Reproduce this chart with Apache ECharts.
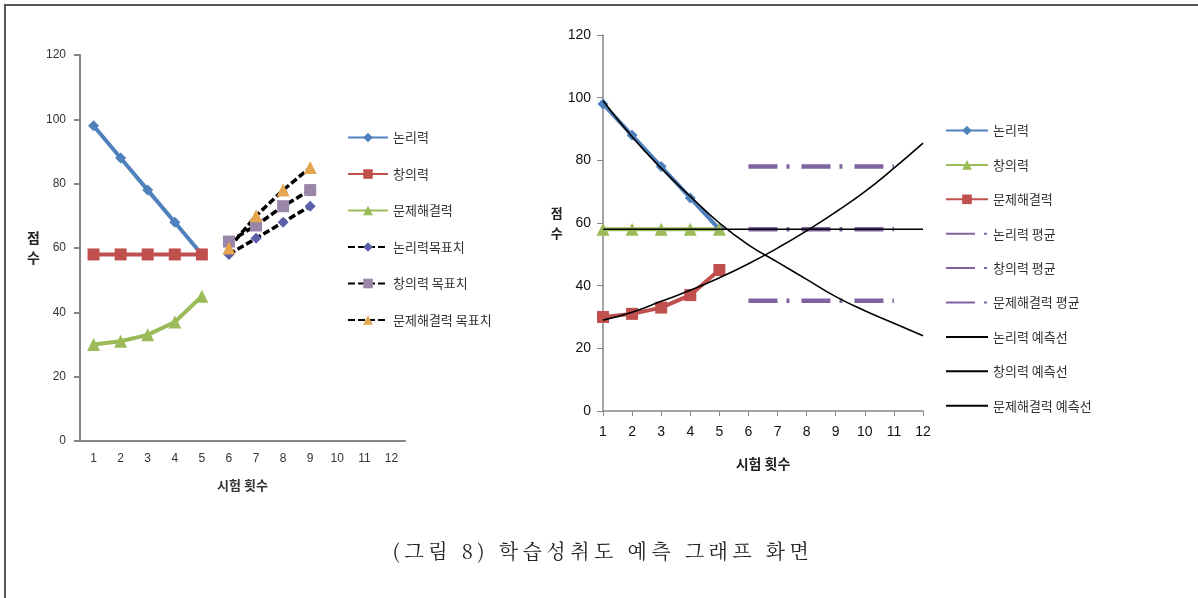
<!DOCTYPE html>
<html>
<head>
<meta charset="utf-8">
<script src="https://cdn.jsdelivr.net/npm/echarts@6/dist/echarts.min.js"></script>
<style>
  html, body { margin: 0; padding: 0; background: #fff; }
  #main { width: 1198px; height: 598px; }
  #caption {
    position: absolute; left: 0; top: 536px; width: 1206px;
    text-align: center; font-size: 20px; letter-spacing: 4.5px; color: #222;
    font-family: "Noto Serif CJK KR", "Noto Sans CJK KR", serif;
  }
</style>
</head>
<body>
<div id="main"></div>
<div id="caption">(그림 8) 학습성취도 예측 그래프 화면</div>
<script>
// 시험 회차
var rounds = ['1', '2', '3', '4', '5', '6', '7', '8', '9', '10', '11', '12'];

// 왼쪽 그래프 - 실제 점수 + 목표치
var leftLogic = [98, 88, 78, 68, 58, null, null, null, null, null, null, null];
var leftCreative = [58, 58, 58, 58, 58, null, null, null, null, null, null, null];
var leftProblem = [30, 31, 33, 37, 45, null, null, null, null, null, null, null];
var goalLogic = [null, null, null, null, null, 58, 63, 68, 73, null, null, null];
var goalCreative = [null, null, null, null, null, 62, 67, 73, 78, null, null, null];
var goalProblem = [null, null, null, null, null, 60, 70, 78, 85, null, null, null];

// 오른쪽 그래프 - 점수, 평균, 예측선
var rightLogic = [98, 88, 78, 68, 58, null, null, null, null, null, null, null];
var rightCreative = [58, 58, 58, 58, 58, null, null, null, null, null, null, null];
var rightProblem = [30, 31, 33, 37, 45, null, null, null, null, null, null, null];
var avgLogic = [null, null, null, null, null, 78, 78, 78, 78, 78, 78, null];
var avgCreative = [null, null, null, null, null, 58, 58, 58, 58, 58, 58, null];
var avgProblem = [null, null, null, null, null, 35.2, 35.2, 35.2, 35.2, 35.2, 35.2, null];
var predLogic = [99, 87.5, 77.5, 68.5, 60, 53, 47.5, 42, 36.5, 32, 28, 24];
var predCreative = [58, 58, 58, 58, 58, 58, 58, 58, 58, 58, 58, 58];
var predProblem = [29, 31.5, 35, 38.5, 42.5, 47, 52, 57.5, 63.5, 70, 77.5, 85.5];

var yTicks = { min: 0, max: 120, interval: 20 };

var blue = '#4F81BD', red = '#C0504D', green = '#9BBB59', purple = '#7F63A1';
var axisGray = '#868686';
var krFont = '"Noto Sans CJK KR", sans-serif';

var myChart = echarts.init(document.getElementById('main'));

function lineSeries(name, data, xi, color, symbol, size, extra) {
    var s = {
        name: name,
        type: 'line',
        xAxisIndex: xi,
        yAxisIndex: xi,
        data: data,
        symbol: symbol,
        symbolSize: size,
        itemStyle: { color: color },
        lineStyle: { color: color, width: 4 },
        emphasis: { disabled: true },
        animation: false
    };
    for (var k in extra) s[k] = extra[k];
    return s;
}

function goalSeries(name, data, markColor, symbol, size) {
    return lineSeries(name, data, 0, markColor, symbol, size, {
        lineStyle: { color: '#000', width: 3.5, type: [7, 3] },
        z: 3
    });
}

function avgSeries(name, data) {
    return lineSeries(name, data, 1, purple, 'none', 0, {
        lineStyle: { color: purple, width: 4.5, type: [29, 9, 3, 12] }
    });
}

function predSeries(name, data) {
    return lineSeries(name, data, 1, '#000', 'none', 0, {
        smooth: true,
        lineStyle: { color: '#000', width: 1.6 },
        z: 5
    });
}

// 마커 없는 범례 항목 (선만 표시)
function lineOnly(name) {
    return { name: name, itemStyle: { opacity: 0, color: 'rgba(0,0,0,0)', borderWidth: 0 } };
}

myChart.setOption({
    backgroundColor: '#fff',
    animation: false,
    graphic: [
        { // 바깥 테두리
            type: 'rect',
            shape: { x: 5, y: 5, width: 1300, height: 700 },
            style: { fill: 'none', stroke: '#555', lineWidth: 2 },
            silent: true
        }
    ],
    legend: [
        {
            orient: 'vertical',
            left: 342,
            top: 126,
            itemWidth: 40,
            itemHeight: 12,
            itemGap: 23.5,
            textStyle: { fontFamily: krFont, fontSize: 13, color: '#333' },
            data: ['논리력', '창의력', '문제해결력', '논리력목표치', '창의력 목표치', '문제해결력 목표치']
        },
        {
            orient: 'vertical',
            left: 940,
            top: 119,
            itemWidth: 42,
            itemHeight: 12,
            itemGap: 21.4,
            textStyle: { fontFamily: krFont, fontSize: 13, color: '#333' },
            data: ['논리력 ', '창의력 ', '문제해결력 ',
                lineOnly('논리력 평균'), lineOnly('창의력 평균'), lineOnly('문제해결력 평균'),
                lineOnly('논리력 예측선'), lineOnly('창의력 예측선'), lineOnly('문제해결력 예측선')]
        }
    ],
    grid: [
        { left: 80, right: 793, top: 55, bottom: 157 },
        { left: 603, right: 275, top: 35, bottom: 187 }
    ],
    xAxis: [
        {
            gridIndex: 0,
            type: 'category',
            data: rounds,
            boundaryGap: true,
            name: '시험 횟수',
            nameLocation: 'middle',
            nameGap: 38,
            nameTextStyle: { fontFamily: krFont, fontSize: 13, fontWeight: 'bold', color: '#333' },
            axisLine: { lineStyle: { color: axisGray, width: 2 } },
            axisTick: { length: 6, lineStyle: { color: axisGray, width: 2 } },
            axisLabel: { fontSize: 12, color: '#333', margin: 12, fontFamily: 'Liberation Sans' },
            splitLine: { show: false }
        },
        {
            gridIndex: 1,
            type: 'category',
            data: rounds,
            boundaryGap: false,
            name: '시험 횟수',
            nameLocation: 'middle',
            nameGap: 46,
            nameTextStyle: { fontFamily: krFont, fontSize: 14, fontWeight: 'bold', color: '#222' },
            axisLine: { lineStyle: { color: axisGray, width: 1.5 } },
            axisTick: { length: 5, lineStyle: { color: axisGray } },
            axisLabel: { fontSize: 14, color: '#111', margin: 14, fontFamily: 'Liberation Sans' },
            splitLine: { show: false }
        }
    ],
    yAxis: [
        {
            gridIndex: 0,
            type: 'value',
            min: yTicks.min, max: yTicks.max, interval: yTicks.interval,
            name: '점\n수',
            nameLocation: 'middle',
            nameRotate: 0,
            nameGap: 40,
            nameTextStyle: { fontFamily: krFont, fontSize: 14, fontWeight: 'bold', color: '#222', lineHeight: 20 },
            axisLine: { show: true, lineStyle: { color: axisGray, width: 2 } },
            axisTick: { show: true, length: 6, lineStyle: { color: axisGray, width: 2 } },
            axisLabel: { fontSize: 12, color: '#333', margin: 14, fontFamily: 'Liberation Sans' },
            splitLine: { show: false }
        },
        {
            gridIndex: 1,
            type: 'value',
            min: yTicks.min, max: yTicks.max, interval: yTicks.interval,
            name: '점\n수',
            nameLocation: 'middle',
            nameRotate: 0,
            nameGap: 40,
            nameTextStyle: { fontFamily: krFont, fontSize: 13, fontWeight: 'bold', color: '#222', lineHeight: 20 },
            axisLine: { show: true, lineStyle: { color: axisGray, width: 1.5 } },
            axisTick: { show: true, length: 6, lineStyle: { color: axisGray } },
            axisLabel: { fontSize: 14, color: '#111', margin: 12, fontFamily: 'Liberation Sans' },
            splitLine: { show: false }
        }
    ],
    series: [
        lineSeries('논리력', leftLogic, 0, blue, 'diamond', 11, {}),
        lineSeries('창의력', leftCreative, 0, red, 'rect', 12, {}),
        lineSeries('문제해결력', leftProblem, 0, green, 'triangle', 13, {}),
        goalSeries('논리력목표치', goalLogic, '#5A5FA8', 'diamond', 11),
        goalSeries('창의력 목표치', goalCreative, '#9A86A8', 'rect', 12),
        goalSeries('문제해결력 목표치', goalProblem, '#E3A64F', 'triangle', 13),

        lineSeries('논리력 ', rightLogic, 1, blue, 'diamond', 11, {}),
        lineSeries('창의력 ', rightCreative, 1, green, 'triangle', 13, {}),
        lineSeries('문제해결력 ', rightProblem, 1, red, 'rect', 12, {}),
        avgSeries('논리력 평균', avgLogic),
        avgSeries('창의력 평균', avgCreative),
        avgSeries('문제해결력 평균', avgProblem),
        predSeries('논리력 예측선', predLogic),
        predSeries('창의력 예측선', predCreative),
        predSeries('문제해결력 예측선', predProblem)
    ]
});
</script>
</body>
</html>
